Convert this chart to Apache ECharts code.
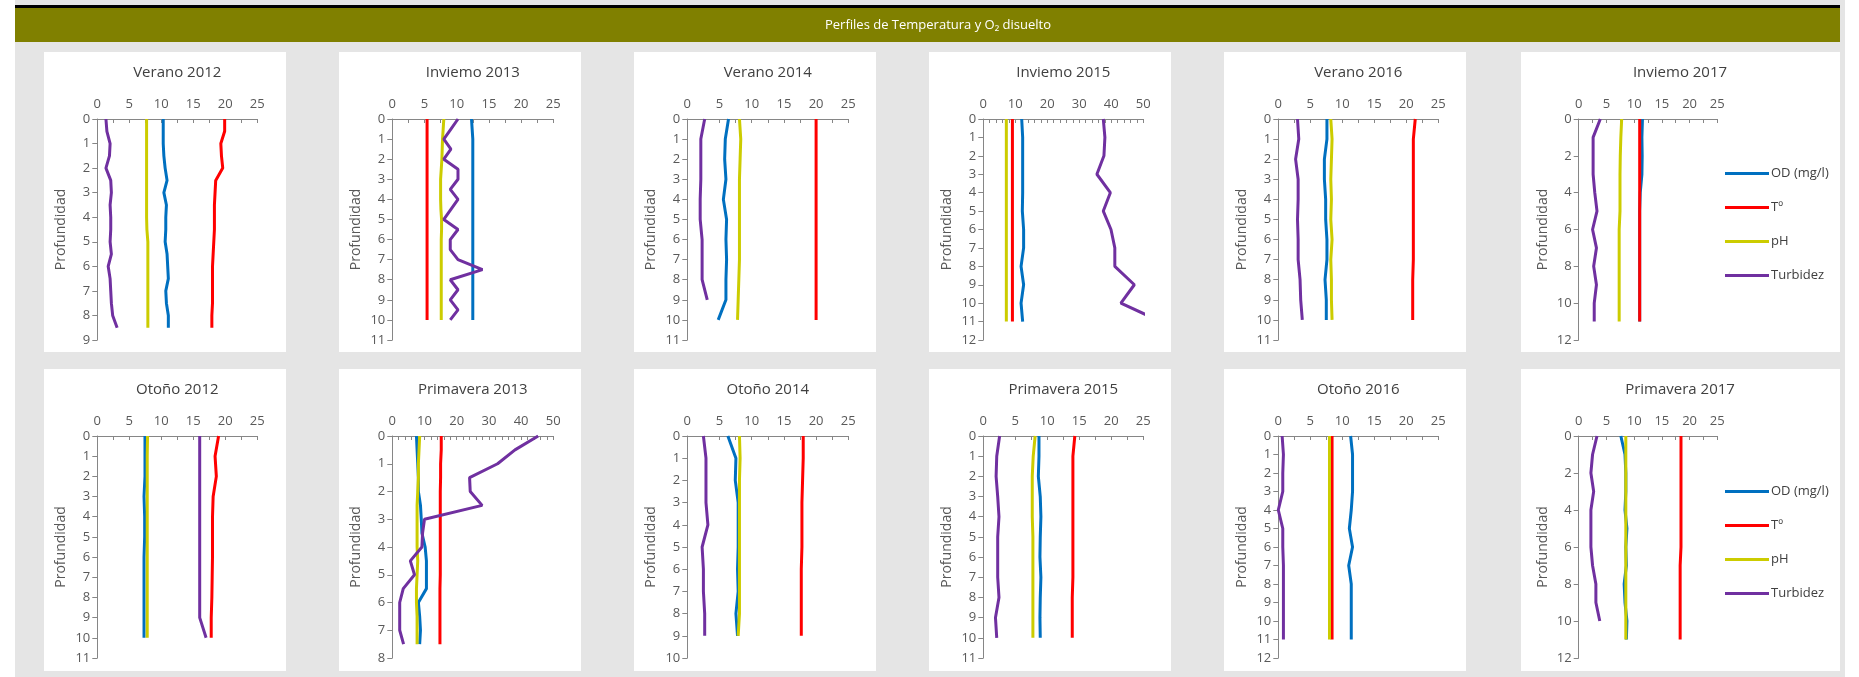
<!DOCTYPE html>
<html><head><meta charset="utf-8">
<script src="https://cdn.jsdelivr.net/npm/echarts@6/dist/echarts.min.js"></script>
<style>html,body{margin:0;padding:0;background:#fff;}#c{width:1859px;height:677px;}</style>
</head><body><div id="c"></div>
<script>
// ---------- DATA ----------
const seriesNames = ['OD (mg/l)', 'Tº', 'pH', 'Turbidez'];

// Verano 2012
const depthV12 = [0,0.5,1,1.5,2,2.5,3,3.5,4,4.5,5,5.5,6,6.5,7,7.5,8,8.5];
const odV12   = [10.3,10.3,10.3,10.4,10.6,10.9,10.4,10.8,10.7,10.7,10.6,10.9,11.0,11.1,10.7,10.8,11.1,11.1];
const tV12    = [19.9,19.9,19.3,19.4,19.6,18.5,18.4,18.3,18.3,18.3,18.2,18.1,18.0,18.0,18.0,18.0,17.9,17.9];
const phV12   = [7.7,7.7,7.7,7.7,7.7,7.7,7.7,7.7,7.7,7.75,7.9,7.9,7.9,7.9,7.9,7.9,7.9,7.9];
const turbV12 = [1.35,1.5,2.0,1.9,1.35,2.1,2.2,2.0,2.1,2.1,2.0,2.2,1.7,2.0,2.1,2.2,2.4,3.1];

// Inviemo 2013
const depthI13 = [0,0.5,1,1.5,2,2.5,3,3.5,4,4.5,5,5.5,6,6.5,7,7.5,8,8.5,9,9.5,10];
const odI13   = [12.3,12.4,12.5,12.5,12.5,12.5,12.5,12.5,12.5,12.5,12.5,12.5,12.5,12.5,12.5,12.5,12.5,12.5,12.5,12.5,12.5];
const tI13    = [5.4,5.4,5.4,5.4,5.4,5.4,5.4,5.4,5.4,5.4,5.4,5.4,5.4,5.4,5.4,5.4,5.4,5.4,5.4,5.4,5.4];
const phI13   = [8.0,7.9,7.8,7.75,7.7,7.6,7.5,7.5,7.5,7.55,7.65,7.65,7.6,7.6,7.6,7.6,7.6,7.6,7.6,7.6,7.6];
const turbI13 = [10.2,9.1,8.0,9.1,8.0,10.2,10.2,9.0,10.2,9.1,8.0,10.2,9.0,9.0,10.2,14.0,9.0,10.2,9.0,10.2,9.0];

// Verano 2014
const depthV14 = [0,1,2,3,4,5,6,7,8,9,10];
const odV14   = [6.4,5.9,5.8,6.0,5.6,6.1,6.0,6.1,6.0,6.0,4.8];
const tV14    = [20.0,20.0,20.0,20.0,20.0,20.0,20.0,20.0,20.0,20.0,20.0];
const phV14   = [8.1,8.3,8.2,8.1,8.1,8.1,8.1,8.1,8.0,7.9,7.8];
const turbV14 = [2.7,2.1,2.1,2.1,2.0,2.0,2.3,2.3,2.3,3.1,null];

// Inviemo 2015
const depthI15 = [0,1,2,3,4,5,6,7,8,9,10,11];
const odI15   = [12.0,12.3,12.3,12.3,12.3,12.2,12.6,12.6,11.8,12.6,11.8,12.3];
const tI15    = [9.1,9.1,9.1,9.1,9.1,9.1,9.1,9.1,9.1,9.1,9.1,9.1];
const phI15   = [7.2,7.2,7.2,7.2,7.2,7.2,7.2,7.2,7.2,7.2,7.2,7.2];
const turbI15 = [37.5,38.0,37.7,35.5,39.7,37.5,39.9,41.1,41.1,47.2,43.0,55.5];

// Verano 2016
const depthV16 = [0,1,2,3,4,5,6,7,8,9,10];
const odV16   = [7.6,7.6,7.2,7.2,7.4,7.4,7.6,7.6,7.3,7.5,7.5];
const tV16    = [21.4,21.1,21.1,21.1,21.1,21.1,21.1,21.1,21.0,21.0,21.0];
const phV16   = [8.2,8.4,8.3,8.2,8.3,8.2,8.4,8.2,8.3,8.3,8.4];
const turbV16 = [3.0,3.2,2.7,3.1,3.1,3.0,3.1,3.1,3.4,3.5,3.75];

// Inviemo 2017
const depthI17 = [0,1,2,3,4,5,6,7,8,9,10,11];
const odI17   = [11.5,11.4,11.45,11.4,11.1,11.0,11.0,11.0,11.0,11.0,11.0,11.0];
const tI17    = [11.0,11.0,11.0,11.0,11.0,11.0,11.0,11.0,11.0,11.0,11.0,11.0];
const phI17   = [7.75,7.6,7.5,7.45,7.45,7.45,7.3,7.3,7.3,7.3,7.3,7.3];
const turbI17 = [3.9,2.6,2.6,2.6,2.9,3.3,2.5,3.2,2.7,3.2,2.8,2.8];

// Otoño 2012
const depthO12 = [0,1,2,3,4,5,6,7,8,9,10];
const odO12   = [7.45,7.45,7.45,7.3,7.4,7.4,7.3,7.3,7.3,7.3,7.3];
const tO12    = [18.95,18.4,18.6,18.1,18.0,18.0,18.0,17.95,17.9,17.8,17.8];
const phO12   = [7.85,7.8,7.8,7.8,7.8,7.8,7.8,7.8,7.8,7.8,7.8];
const turbO12 = [16.0,16.0,16.0,16.0,16.0,16.0,16.0,16.0,16.0,16.0,17.0];

// Primavera 2013
const depthP13 = [0,0.5,1,1.5,2,2.5,3,3.5,4,4.5,5,5.5,6,6.5,7,7.5];
const odP13   = [7.5,7.7,7.9,8.1,8.1,8.75,9.0,9.2,10.2,10.6,10.6,10.6,8.1,8.5,8.75,8.5];
const tP13    = [15.2,15.2,15.0,15.0,14.9,14.9,14.9,14.9,14.9,14.9,14.9,14.8,14.8,14.8,14.8,14.8];
const phP13   = [8.5,8.3,8.1,8.1,7.9,7.7,7.7,7.7,7.7,7.9,7.7,7.5,7.5,7.7,7.7,7.7];
const turbP13 = [45.3,38.1,32.7,24.0,24.2,27.9,10.0,9.4,9.2,5.6,6.9,3.4,2.3,2.3,2.3,3.5];

// Otoño 2014
const depthO14 = [0,1,2,3,4,5,6,7,8,9];
const odO14   = [6.3,7.55,7.45,7.9,7.9,7.9,7.8,7.9,7.55,7.8];
const tO14    = [18.0,18.0,17.9,17.8,17.8,17.8,17.7,17.7,17.7,17.7];
const phO14   = [8.1,8.2,8.1,8.1,8.1,8.1,8.1,8.1,8.1,7.9];
const turbO14 = [2.5,2.9,2.9,2.9,3.2,2.3,2.5,2.5,2.7,2.7];

// Primavera 2015
const depthP15 = [0,1,2,3,4,5,6,7,8,9,10];
const odP15   = [8.7,8.7,8.6,8.9,9.0,8.9,8.85,9.0,8.9,8.85,8.9];
const tP15    = [14.3,14.0,14.0,14.0,14.0,14.0,14.0,14.0,13.9,13.9,13.9];
const phP15   = [8.1,7.8,7.65,7.65,7.65,7.75,7.75,7.75,7.75,7.75,7.75];
const turbP15 = [2.55,2.1,2.0,2.25,2.45,2.25,2.25,2.25,2.45,1.9,2.1];

// Otoño 2016
const depthO16 = [0,1,2,3,4,5,6,7,8,9,10,11];
const odO16   = [11.3,11.6,11.6,11.6,11.4,11.1,11.6,11.0,11.4,11.4,11.4,11.4];
const tO16    = [8.4,8.4,8.4,8.4,8.4,8.4,8.4,8.4,8.4,8.4,8.4,8.4];
const phO16   = [8.0,8.0,8.0,8.0,8.0,8.0,8.0,8.0,8.0,8.0,8.0,8.0];
const turbO16 = [0.6,0.8,0.7,0.7,0.0,0.7,0.7,0.8,0.8,0.8,0.8,0.8];

// Primavera 2017
const depthP17 = [0,1,2,3,4,5,6,7,8,9,10,11];
const odP17   = [7.6,8.35,8.5,8.5,8.35,8.7,8.5,8.6,8.2,8.35,8.7,8.6];
const tP17    = [18.45,18.45,18.45,18.45,18.45,18.45,18.45,18.3,18.3,18.3,18.3,18.3];
const phP17   = [8.5,8.5,8.5,8.5,8.5,8.5,8.5,8.5,8.5,8.5,8.5,8.5];
const turbP17 = [3.3,2.5,2.2,2.7,2.2,2.2,2.2,2.5,3.1,3.1,3.8,null];

const panelTitles = ['Verano 2012','Inviemo 2013','Verano 2014','Inviemo 2015','Verano 2016','Inviemo 2017',
                     'Otoño 2012','Primavera 2013','Otoño 2014','Primavera 2015','Otoño 2016','Primavera 2017'];
const panelData = [
  [depthV12, odV12, tV12, phV12, turbV12],
  [depthI13, odI13, tI13, phI13, turbI13],
  [depthV14, odV14, tV14, phV14, turbV14],
  [depthI15, odI15, tI15, phI15, turbI15],
  [depthV16, odV16, tV16, phV16, turbV16],
  [depthI17, odI17, tI17, phI17, turbI17],
  [depthO12, odO12, tO12, phO12, turbO12],
  [depthP13, odP13, tP13, phP13, turbP13],
  [depthO14, odO14, tO14, phO14, turbO14],
  [depthP15, odP15, tP15, phP15, turbP15],
  [depthO16, odO16, tO16, phO16, turbO16],
  [depthP17, odP17, tP17, phP17, turbP17]
];
const xMaxes = [25,25,25,50,25,25, 25,50,25,25,25,25];
const yMaxes = [9,11,11,12,11,12, 11,8,10,11,12,12];
const yIntervals = [1,1,1,1,1,2, 1,1,1,1,1,2];

// ---------- LAYOUT ----------
const FONT = "'Open Sans', 'Noto Sans', sans-serif";
const colors = ['#0070C0', '#FF0000', '#CCCC00', '#7030A0'];
const colLeft  = [97.3, 392.3, 687.3, 983.3, 1278.3, 1578.7];
const colWidth = [160, 161, 161, 160, 160, 138.6];
const rowTop = [119, 436];
const rowHeight = [221, 222];
const panelLeft = [44, 339, 634, 929, 1224, 1521];
const panelW = [242, 242, 242, 242, 242, 319];
const panelTop = [52, 369];
const panelH = [300, 302];
const titleY = [73, 390];

const grids = [], xAxes = [], yAxes = [], series = [], graphics = [];

graphics.push({type:'rect', z:-100, shape:{x:15, y:0, width:1830, height:677}, style:{fill:'#e5e5e5'}});
graphics.push({type:'rect', z:-99, shape:{x:15, y:5, width:1825, height:3}, style:{fill:'#000000'}});
graphics.push({type:'rect', z:-99, shape:{x:15, y:8, width:1825, height:34}, style:{fill:'#808000'}});
graphics.push({type:'text', z:-98, style:{text:'Perfiles de Temperatura y O₂ disuelto', x:938, y:25, textAlign:'center', textVerticalAlign:'middle', fill:'#ffffff', font:"13px " + FONT}});

for (let i = 0; i < 12; i++) {
  const r = Math.floor(i / 6), c = i % 6;
  graphics.push({type:'rect', z:-99, shape:{x:panelLeft[c], y:panelTop[r], width:panelW[c], height:panelH[r]}, style:{fill:'#ffffff'}});
  const tx = c === 5 ? 1680 : colLeft[c] + colWidth[c] / 2;
  graphics.push({type:'text', z:-98, style:{text:panelTitles[i], x:tx, y:titleY[r], textAlign:'center', textVerticalAlign:'middle', fill:'#404040', font:"15px " + FONT}});

  grids.push({left: colLeft[c], top: rowTop[r], width: colWidth[c], height: rowHeight[r], containLabel:false});
  const big = xMaxes[i] === 50;
  xAxes.push({
    gridIndex:i, type:'value', position:'top', min:0, max:xMaxes[i], interval: big ? 10 : 5,
    axisLine:{show:true, onZero:false, lineStyle:{color:'#868686', width:1}},
    axisTick:{show:true, inside:true, length:4, lineStyle:{color:'#868686'}},
    minorTick:{show:true, splitNumber: big ? 5 : 2, length:4, lineStyle:{color:'#868686'}},
    axisLabel:{margin:8, fontSize:13, color:'#595959', fontFamily:FONT},
    splitLine:{show:false}
  });
  yAxes.push({
    gridIndex:i, type:'value', inverse:true, min:0, max:yMaxes[i], interval:yIntervals[i],
    axisLine:{show:true, onZero:false, lineStyle:{color:'#868686', width:1}},
    axisTick:{show:true, inside:false, length:5, lineStyle:{color:'#868686'}},
    axisLabel:{margin:7, fontSize:13, color:'#595959', fontFamily:FONT},
    splitLine:{show:false},
    name:'Profundidad', nameLocation:'middle', nameGap: 29,
    nameTextStyle:{fontSize:14, color:'#595959', fontFamily:FONT}
  });
  const d = panelData[i];
  const depth = d[0];
  for (let s = 0; s < 4; s++) {
    const vals = d[s + 1];
    const pts = [];
    for (let k = 0; k < depth.length; k++) {
      if (vals[k] !== null && vals[k] !== undefined) pts.push([vals[k], depth[k]]);
    }
    series.push({
      name: seriesNames[s], type:'line', xAxisIndex:i, yAxisIndex:i,
      data: pts, showSymbol:false, symbol:'none', clip:true,
      lineStyle:{width:3, color:colors[s]}, itemStyle:{color:colors[s]},
      emphasis:{disabled:true}
    });
  }
}

const legendBase = {
  orient:'vertical', left:1720, itemGap:21, itemWidth:44, itemHeight:3, icon:'rect',
  data: seriesNames, selectedMode:false,
  textStyle:{fontSize:13, color:'#404040', fontFamily:FONT, padding:[0,0,0,-3]}
};
const chart = echarts.init(document.getElementById('c'), null, {renderer:'canvas'});
chart.setOption({
  animation:false,
  backgroundColor:'#ffffff',
  graphic: graphics,
  grid: grids, xAxis: xAxes, yAxis: yAxes, series: series,
  legend: [Object.assign({}, legendBase, {top:162}), Object.assign({}, legendBase, {top:480})]
});
</script></body></html>
